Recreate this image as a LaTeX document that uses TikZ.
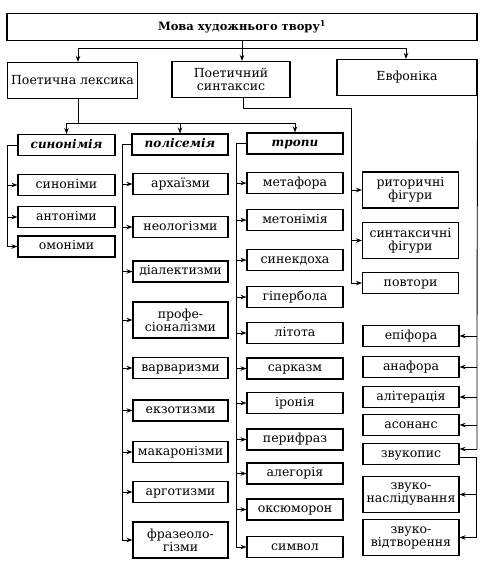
\documentclass[tikz,border=0pt]{standalone}
\usepackage{fontspec}
\setmainfont{DejaVu Serif}
\usetikzlibrary{arrows.meta}

\begin{document}
\begin{tikzpicture}[x=1pt,y=-1pt,
	box/.style={draw=black,line width=1.1pt,align=center,inner sep=1pt,font=\fontsize{12.5}{13}\selectfont},
	head/.style={box,font=\fontsize{11.5}{13}\selectfont\bfseries},
	cat/.style={box,font=\fontsize{12}{13}\selectfont\bfseries\itshape},
	one/.style={minimum height=21pt,text height=9pt,text depth=2.5pt},
	two/.style={minimum height=36pt},
	line/.style={line width=0.9pt},
	arr/.style={line,-{Stealth[length=6pt,width=4.5pt]}}]
	\useasboundingbox (0,0) rectangle (489,566);
	% top levels
	\node[head,minimum width=470pt,minimum height=27pt] (T) at (242,27) {Мова художнього твору\textsuperscript{1}};
	\node[box,minimum width=130pt,two] (lex) at (72.5,80.5) {Поетична лексика};
	\node[box,minimum width=118pt,two] (syn) at (231,79.5) {Поетичний\\синтаксис};
	\node[box,minimum width=140pt,two] (evf) at (407,77.5) {Евфоніка};
	% third level
	\node[cat,minimum width=97pt,one] (synonimia) at (66.5,145) {синонімія};
	\node[cat,minimum width=96pt,one] (polisemia) at (180,144.5) {полісемія};
	\node[cat,minimum width=96pt,one] (tropy) at (295,143.5) {тропи};
	% synonymy
	\node[box,minimum width=97pt,one] (synonimy) at (66.5,185) {синоніми};
	\node[box,minimum width=97pt,one] (antonimy) at (66.5,217) {антоніми};
	\node[box,minimum width=97pt,one] (omonimy) at (66.5,246.5) {омоніми};
	% polysemy
	\node[box,minimum width=95pt,one] (arkh) at (180.5,184) {архаїзми};
	\node[box,minimum width=95pt,one] (neol) at (180.5,227) {неологізми};
	\node[box,minimum width=95pt,one] (dial) at (180.5,271.5) {діалектизми};
	\node[box,minimum width=95pt,two] (prof) at (180.5,320) {профе-\\сіоналізми};
	\node[box,minimum width=95pt,one] (varv) at (180.5,368) {варваризми};
	\node[box,minimum width=95pt,one] (ekzo) at (180.5,410.5) {екзотизми};
	\node[box,minimum width=95pt,one] (makar) at (180.5,452) {макаронізми};
	\node[box,minimum width=95pt,one] (argo) at (180.5,492) {арготизми};
	\node[box,minimum width=95pt,two] (fraz) at (180.5,540) {фразеоло-\\гізми};
	% tropes
	\node[box,minimum width=96pt,one] (metaf) at (295,183) {метафора};
	\node[box,minimum width=96pt,one] (meton) at (295,220) {метонімія};
	\node[box,minimum width=96pt,one] (sinek) at (295,260) {синекдоха};
	\node[box,minimum width=96pt,one] (giper) at (295,297) {гіпербола};
	\node[box,minimum width=96pt,one] (litota) at (295,333) {літота};
	\node[box,minimum width=96pt,one] (sarkazm) at (295,368.5) {сарказм};
	\node[box,minimum width=96pt,one] (ironia) at (295,403) {іронія};
	\node[box,minimum width=96pt,one] (perif) at (295,439.5) {перифраз};
	\node[box,minimum width=96pt,one] (aleg) at (295,473.5) {алегорія};
	\node[box,minimum width=96pt,one] (oksum) at (295,509.5) {оксюморон};
	\node[box,minimum width=96pt,one] (symvol) at (295,547) {символ};
	% syntax
	\node[box,minimum width=96pt,two] (ritor) at (410.5,190) {риторичні\\фігури};
	\node[box,minimum width=96pt,two] (sintfig) at (410.5,240.5) {синтаксичні\\фігури};
	\node[box,minimum width=96pt,one] (povtory) at (410.5,283) {повтори};
	% euphony
	\node[box,minimum width=96pt,one] (epif) at (411,336) {епіфора};
	\node[box,minimum width=96pt,one] (anaf) at (411,367) {анафора};
	\node[box,minimum width=96pt,one] (alit) at (411,397) {алітерація};
	\node[box,minimum width=96pt,one] (asonans) at (411,425) {асонанс};
	\node[box,minimum width=96pt,one] (zvukopys) at (411,454) {звукопис};
	\node[box,minimum width=96pt,two] (zvnasl) at (411,494.5) {звуко-\\наслідування};
	\node[box,minimum width=96pt,two] (zvidtv) at (411,537.5) {звуко-\\відтворення};
	% bends
	\coordinate (hubT) at (242,48);
	\coordinate (hubL) at (78,48);
	\coordinate (hubR) at (406,48);
	\coordinate (lexfoot) at (78,123);
	\coordinate (synout) at (243,108);
	\coordinate (synbar) at (351,108);
	\coordinate (evfbar) at (477,0);
	\coordinate (zvbar) at (476,0);
	\coordinate (barA) at (7,0);
	\coordinate (barB) at (122,0);
	\coordinate (barC) at (236,0);
	% connectors
	\draw[line] (T.south) -- (hubT);
	\draw[line] (hubL) -- (hubR);
	\draw[arr] (hubL) -- (hubL |- lex.north);
	\draw[arr] (hubT) -- (hubT |- syn.north);
	\draw[arr] (hubR) -- (hubR |- evf.north);
	\draw[line] (lexfoot |- lex.south) -- (lexfoot);
	\draw[arr] (lexfoot) -| (synonimia.north);
	\draw[arr] (lexfoot) -| (polisemia.north);
	\draw[arr] (lexfoot) -| (tropy.north);
	\draw[line] (synonimia.west) -- (barA |- synonimia.west) -- (barA |- omonimy.west);
	\foreach \n in {synonimy,antonimy,omonimy}
		\draw[arr] (barA |- \n.west) -- (\n.west);
	\draw[line] (polisemia.west) -- (barB |- polisemia.west) -- (barB |- fraz.west);
	\foreach \n in {arkh,neol,dial,prof,varv,ekzo,makar,argo,fraz}
		\draw[arr] (barB |- \n.west) -- (\n.west);
	\draw[line] (tropy.west) -- (barC |- tropy.west) -- (barC |- symvol.west);
	\foreach \n in {metaf,meton,sinek,giper,litota,sarkazm,ironia,perif,aleg,oksum,symvol}
		\draw[arr] (barC |- \n.west) -- (\n.west);
	\draw[line] (synout |- syn.south) -- (synout) -- (synbar) -- (synbar |- povtory.west);
	\foreach \n in {ritor,sintfig,povtory}
		\draw[arr] (synbar |- \n.west) -- (\n.west);
	\draw[line] (evf.south east) -- (evfbar |- epif.east) -- ([yshift=5pt]evfbar |- zvukopys.east);
	\foreach \n in {epif,anaf,alit,asonans}
		\draw[arr] (evfbar |- \n.east) -- (\n.east);
	\draw[arr] ([yshift=5pt]evfbar |- zvukopys.east) -- ([yshift=5pt]zvukopys.east);
	\draw[line] ([yshift=-3pt]zvukopys.east) -- ([yshift=-3pt]zvbar |- zvukopys.east) -- (zvbar |- zvidtv.east);
	\foreach \n in {zvnasl,zvidtv}
		\draw[arr] (zvbar |- \n.east) -- (\n.east);
\end{tikzpicture}
\end{document}
